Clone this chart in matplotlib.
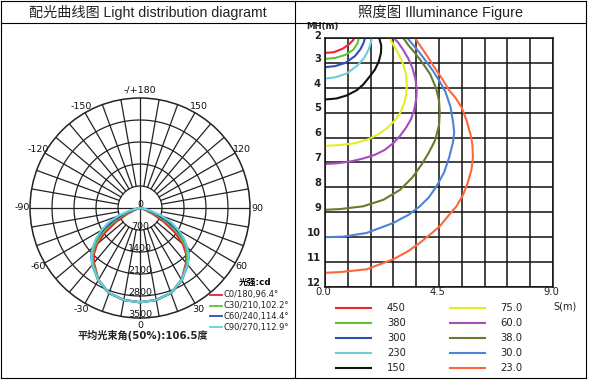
import numpy as np
import matplotlib.pyplot as plt
from matplotlib.lines import Line2D

plt.rcParams['font.family'] = ['DejaVu Sans', 'Noto Sans CJK SC']

# ---- light distribution (cd), gamma measured from nadir, symmetric both sides
gamma = [0, 10, 20, 30, 40, 45, 50, 55, 60, 65, 70, 75, 80, 90]
c0_180 = [3000, 2970, 2880, 2640, 2280, 2080, 1780, 1360, 880, 450, 160, 60, 20, 0]
c30_210 = [3000, 2970, 2880, 2650, 2320, 2140, 1880, 1560, 1160, 720, 360, 150, 50, 0]
c60_240 = [3000, 2975, 2880, 2660, 2360, 2190, 1960, 1680, 1320, 920, 520, 250, 90, 0]
c90_270 = [3000, 2975, 2870, 2650, 2360, 2180, 1960, 1700, 1420, 1100, 740, 360, 120, 0]
plane_labels = ['C0/180,96.4°', 'C30/210,102.2°', 'C60/240,114.4°', 'C90/270,112.9°']
plane_colors = ['#f0202a', '#5cc43a', '#2c4db3', '#66d0d6']
ring_values = [700, 1400, 2100, 2800, 3500]
angle_ticks = [0, 30, 60, 90, 120, 150, 180, -150, -120, -90, -60, -30]
angle_labels = ['0', '30', '60', '90', '120', '150', '-/+180', '-150', '-120', '-90', '-60', '-30']

# ---- isolux curves: S (m) and MH (m)
lux_levels = ['450', '380', '300', '230', '150', '75.0', '60.0', '38.0', '30.0', '23.0']
lux_colors = ['#f5232d', '#62c232', '#2f4fb5', '#6acfd6', '#111111',
              '#e4ee22', '#a64db8', '#6a7a2a', '#4b84d8', '#ff663a']
s450 = [0, 0.35, 0.7, 0.95, 1.1, 1.16]
h450 = [2.6, 2.57, 2.43, 2.25, 2.1, 2.0]
s380 = [0, 0.4, 0.8, 1.12, 1.28, 1.34]
h380 = [2.84, 2.8, 2.68, 2.47, 2.22, 2.0]
s300 = [0, 0.4, 0.8, 1.18, 1.4, 1.52, 1.58]
h300 = [3.17, 3.13, 3.0, 2.73, 2.45, 2.2, 2.0]
s230 = [0, 0.4, 0.85, 1.25, 1.55, 1.73, 1.82, 1.84]
h230 = [3.63, 3.58, 3.43, 3.13, 2.8, 2.45, 2.15, 2.0]
s150 = [0, 0.45, 0.85, 1.25, 1.51, 1.8, 1.97, 2.12, 2.21, 2.22, 2.14]
h150 = [4.47, 4.43, 4.31, 4.1, 3.87, 3.5, 3.27, 2.95, 2.6, 2.3, 2.0]
s75 = [0, 0.6, 1.2, 1.7, 2.1, 2.45, 2.75, 2.97, 3.12, 3.2, 3.23, 3.2, 3.12, 3.0, 2.85, 2.7, 2.54]
h75 = [6.33, 6.3, 6.22, 6.07, 5.87, 5.62, 5.32, 5.0, 4.65, 4.3, 3.9, 3.5, 3.15, 2.85, 2.55, 2.27, 2.0]
s60 = [0, 0.5, 1.0, 1.5, 1.95, 2.35, 2.7, 2.97, 3.2, 3.4, 3.53, 3.6, 3.62, 3.57, 3.45, 3.3, 3.1, 2.9, 2.72]
h60 = [7.06, 7.03, 6.96, 6.84, 6.7, 6.5, 6.22, 5.92, 5.6, 5.25, 4.85, 4.45, 4.1, 3.65, 3.2, 2.85, 2.5, 2.2, 2.0]
s38 = [0, 0.6, 1.5, 2.3, 2.96, 3.45, 3.8, 4.1, 4.35, 4.5, 4.53, 4.5, 4.38, 4.15, 3.85, 3.55, 3.3, 3.09]
h38 = [8.9, 8.87, 8.76, 8.5, 8.1, 7.6, 7.1, 6.6, 6.1, 5.5, 5.0, 4.5, 4.0, 3.45, 3.0, 2.6, 2.3, 2.0]
s30 = [0, 0.7, 1.64, 2.69, 3.3, 3.74, 4.1, 4.4, 4.7, 4.9, 5.05, 5.1, 5.06, 4.95, 4.75, 4.5, 4.27, 4.0, 3.74, 3.48, 3.25]
h30 = [10.0, 9.98, 9.83, 9.43, 9.1, 8.76, 8.4, 7.96, 7.4, 6.8, 6.2, 5.8, 5.4, 4.75, 4.15, 3.7, 3.33, 2.95, 2.6, 2.28, 2.0]
s23 = [0, 0.6, 1.64, 2.69, 3.3, 3.74, 4.2, 4.53, 4.9, 5.19, 5.45, 5.62, 5.78, 5.84, 5.82, 5.75, 5.6, 5.4,
       5.15, 4.9, 4.6, 4.3, 4.0, 3.75, 3.55]
h23 = [11.43, 11.4, 11.29, 10.89, 10.55, 10.23, 9.85, 9.56, 9.1, 8.76, 8.3, 7.85, 7.3, 6.8, 6.3, 5.9, 5.35, 4.8,
       4.4, 4.1, 3.6, 3.15, 2.67, 2.3, 2.0]
lux_s = [s450, s380, s300, s230, s150, s75, s60, s38, s30, s23]
lux_h = [h450, h380, h300, h230, h150, h75, h60, h38, h30, h23]

W, H = 589, 383
fig = plt.figure(figsize=(W / 100, H / 100), dpi=100)


def fx(x):
    return x / W


def fy(y):
    return 1 - y / H


def fline(x0, y0, x1, y1, **kw):
    fig.add_artist(Line2D([fx(x0), fx(x1)], [fy(y0), fy(y1)], transform=fig.transFigure, **kw))


# frame / header
k = dict(color='black', lw=0.8)
fline(1, 1, 586, 1, **k)
fline(1, 378, 586, 378, **k)
fline(1, 1, 1, 378, **k)
fline(586, 1, 586, 378, **k)
fline(1, 22.5, 586, 22.5, **k)
fline(295, 1, 295, 378, **k)
hdr = ['Liberation Sans', 'Noto Sans CJK SC']
fig.text(fx(148), fy(12), '配光曲线图 Light distribution diagramt', family=hdr, fontsize=10.2,
         ha='center', va='center', color='#222')
fig.text(fx(440), fy(12), '照度图 Illuminance Figure', family=hdr, fontsize=10.4,
         ha='center', va='center', color='#222')

# ---- polar chart
cx, cy, R = 140, 208, 110
ax = fig.add_axes([fx(cx - R), fy(cy + R), 2 * R / W, 2 * R / H], projection='polar')
ax.set_theta_zero_location('S')
ax.set_theta_direction(1)
ax.set_ylim(0, 3500)
ax.set_xticks([])
ax.set_yticks([])
ax.grid(False)
ax.spines['polar'].set_linewidth(1.1)
ax.spines['polar'].set_color('#222')
tt = np.linspace(0, 2 * np.pi, 361)
for r in ring_values[:-1]:
    ax.plot(tt, np.full_like(tt, r), color='#222', lw=0.9)
for a in range(0, 360, 10):
    t = np.radians(a)
    r0 = 0 if a % 90 == 0 else ring_values[0]
    ax.plot([t, t], [r0, 3500], color='#222', lw=0.9)

g = np.array(gamma)
for vals, col in zip([c0_180, c30_210, c60_240, c90_270], plane_colors):
    th = np.radians(np.concatenate([-g[::-1], g[1:]]))
    rr = np.concatenate([np.array(vals)[::-1], np.array(vals)[1:]])
    ax.plot(th, rr, color=col, lw=1.6)

for a, lab in zip(angle_ticks, angle_labels):
    ax.text(np.radians(a), 3740, lab, ha='center', va='center', fontsize=6.8, color='#111')
ax.text(np.pi, 110, '0', ha='center', va='center', fontsize=6.8, color='#111')
for r in ring_values:
    ax.text(0, r - 110, str(r), ha='center', va='center', fontsize=6.8, color='#111')

fig.text(fx(239), fy(282.5), '光强:cd', fontsize=6.3, fontweight='bold', ha='left', va='center')
for i, (lab, col) in enumerate(zip(plane_labels, plane_colors)):
    yy = 295 + i * 10.7
    fline(210, yy, 222, yy, color=col, lw=1.3)
    fig.text(fx(224), fy(yy), lab, fontsize=6.0, ha='left', va='center', color='#222')
fig.text(fx(78), fy(335.5), '平均光束角(50%):106.5度', fontsize=7.3, fontweight='bold',
         ha='left', va='center', color='#222')

# ---- illuminance chart
ax2 = fig.add_axes([fx(325), fy(287), 228 / W, 249 / H])
ax2.set_xlim(0, 9)
ax2.set_ylim(12, 2)
ax2.set_xticks(np.arange(0, 9.01, 0.9))
ax2.set_yticks(range(2, 13))
ax2.grid(True, color='#111', lw=1.1)
ax2.tick_params(length=0, labelbottom=False, labelleft=False)
for sp in ax2.spines.values():
    sp.set_linewidth(1.1)
    sp.set_color('#111')
for s, h, col in zip(lux_s, lux_h, lux_colors):
    ax2.plot(s, h, color=col, lw=1.5, solid_joinstyle='round')

for h in range(2, 13):
    ax2.text(-0.16, h - (0.08 if h == 2 else 0.17), str(h), ha='right', va='center',
             fontsize=7.2, fontweight='bold', color='#222')
for s in [0, 4.5, 9.0]:
    ax2.text(s - 0.05, 12.2, f'{s:.1f}', ha='center', va='center', fontsize=7.2, color='#222')
ax2.text(-0.1, 1.52, 'MH(m)', ha='center', va='center', fontsize=6.2, fontweight='bold', color='#222')
ax2.text(9.47, 12.8, 'S(m)', ha='center', va='center', fontsize=7, color='#222')

for i, (lab, col) in enumerate(zip(lux_levels, lux_colors)):
    row = i % 5
    yy = 307.7 + row * 15
    x0 = 336 if i < 5 else 449.5
    fline(x0, yy, x0 + 35, yy, color=col, lw=1.5)
    fig.text(fx(x0 + 51), fy(yy), lab, fontsize=7.2, ha='left', va='center', color='#222')

fig.savefig('out.png', dpi=100, facecolor='white')
